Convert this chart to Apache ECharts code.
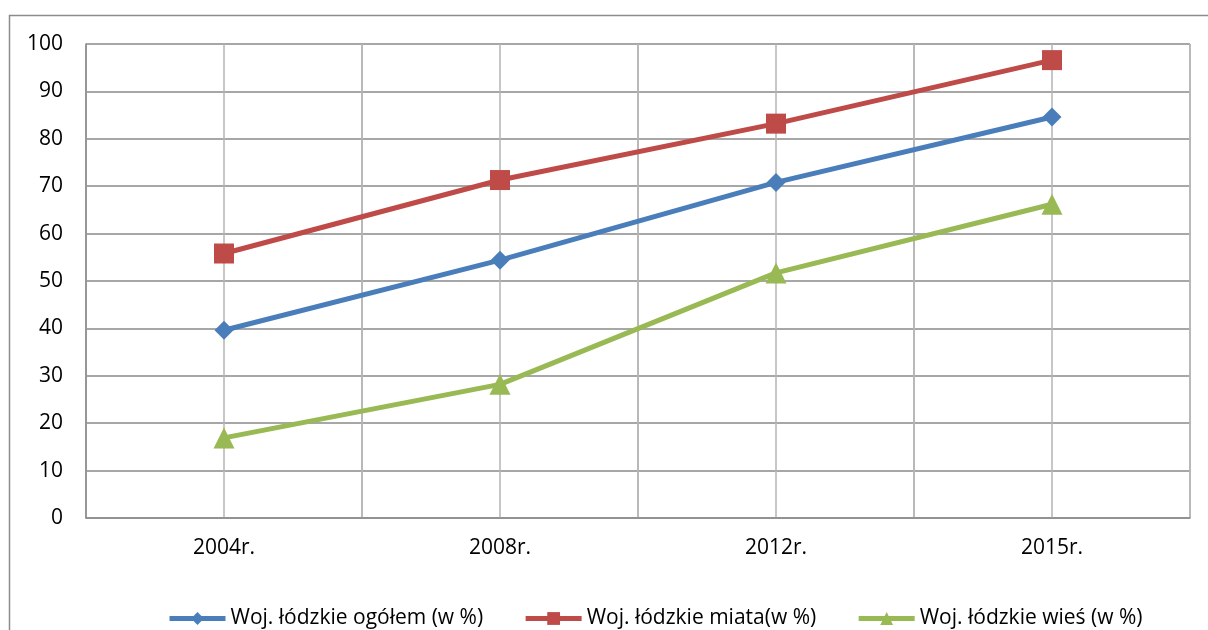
<!DOCTYPE html>
<html>
<head>
<meta charset="utf-8">
<script src="https://cdn.jsdelivr.net/npm/echarts@6/dist/echarts.min.js"></script>
<style>
html,body{margin:0;padding:0;background:#fff;}
#c{width:1208px;height:630px;}
</style>
</head>
<body>
<div id="c"></div>
<script>
const categories = ['2004r.', '2008r.', '2012r.', '2015r.'];
const seriesNames = ['Woj. łódzkie ogółem (w %)', 'Woj. łódzkie miata(w %)', 'Woj. łódzkie wieś (w %)'];
const ogolem = [39.6, 54.4, 70.8, 84.6];
const miasta = [55.8, 71.3, 83.2, 96.6];
const wies = [16.9, 28.2, 51.7, 66.2];
const yTicks = [0, 10, 20, 30, 40, 50, 60, 70, 80, 90, 100];

const FONT = 'Open Sans';
const chart = echarts.init(document.getElementById('c'), null, {renderer: 'canvas'});
chart.setOption({
  animation: false,
  backgroundColor: '#fff',
  graphic: [{
    type: 'rect',
    shape: {x: 9.5, y: 15.5, width: 1400, height: 800},
    style: {fill: 'none', stroke: '#8c8c8c', lineWidth: 1.5},
    silent: true,
    z: -10
  }],
  grid: {left: 86, right: 18, top: 44, bottom: 112, containLabel: false},
  legend: {
    top: 608,
    left: 167,
    padding: 0,
    itemWidth: 56,
    itemHeight: 16,
    itemGap: 40,
    lineStyle: {width: 5},
    textStyle: {fontFamily: FONT, fontSize: 21, color: '#000'},
    data: seriesNames
  },
  xAxis: [{
    type: 'category',
    data: categories,
    boundaryGap: true,
    axisLine: {lineStyle: {color: '#8c8c8c', width: 1.5}},
    axisTick: {show: false},
    axisLabel: {fontFamily: FONT, fontSize: 21, color: '#000', margin: 20},
    splitLine: {show: true, lineStyle: {color: '#b4b4b4', width: 1.5}}
  }, {
    type: 'category',
    data: categories.flatMap(c => [c + 'a', c + 'b']),
    boundaryGap: true,
    position: 'bottom',
    axisLine: {show: false},
    axisTick: {show: false},
    axisLabel: {show: false},
    splitLine: {show: true, lineStyle: {color: '#b4b4b4', width: 1.5}}
  }],
  yAxis: {
    type: 'value',
    min: yTicks[0],
    max: yTicks[yTicks.length - 1],
    interval: 10,
    axisLine: {show: true, lineStyle: {color: '#8c8c8c', width: 1.5}},
    axisTick: {show: false},
    axisLabel: {fontFamily: FONT, fontSize: 21, color: '#000', margin: 23},
    splitLine: {show: true, lineStyle: {color: '#8a8a8a', width: 1.5}}
  },
  series: [{
    name: seriesNames[0],
    type: 'line',
    data: ogolem,
    color: '#4a7ebb',
    lineStyle: {width: 5},
    symbol: 'diamond',
    symbolSize: 19,
    z: 3
  }, {
    name: seriesNames[1],
    type: 'line',
    data: miasta,
    color: '#be4b48',
    lineStyle: {width: 5},
    symbol: 'rect',
    symbolSize: 20,
    z: 3
  }, {
    name: seriesNames[2],
    type: 'line',
    data: wies,
    color: '#98b954',
    lineStyle: {width: 5},
    symbol: 'triangle',
    symbolSize: 21,
    z: 3
  }]
});
</script>
</body>
</html>
